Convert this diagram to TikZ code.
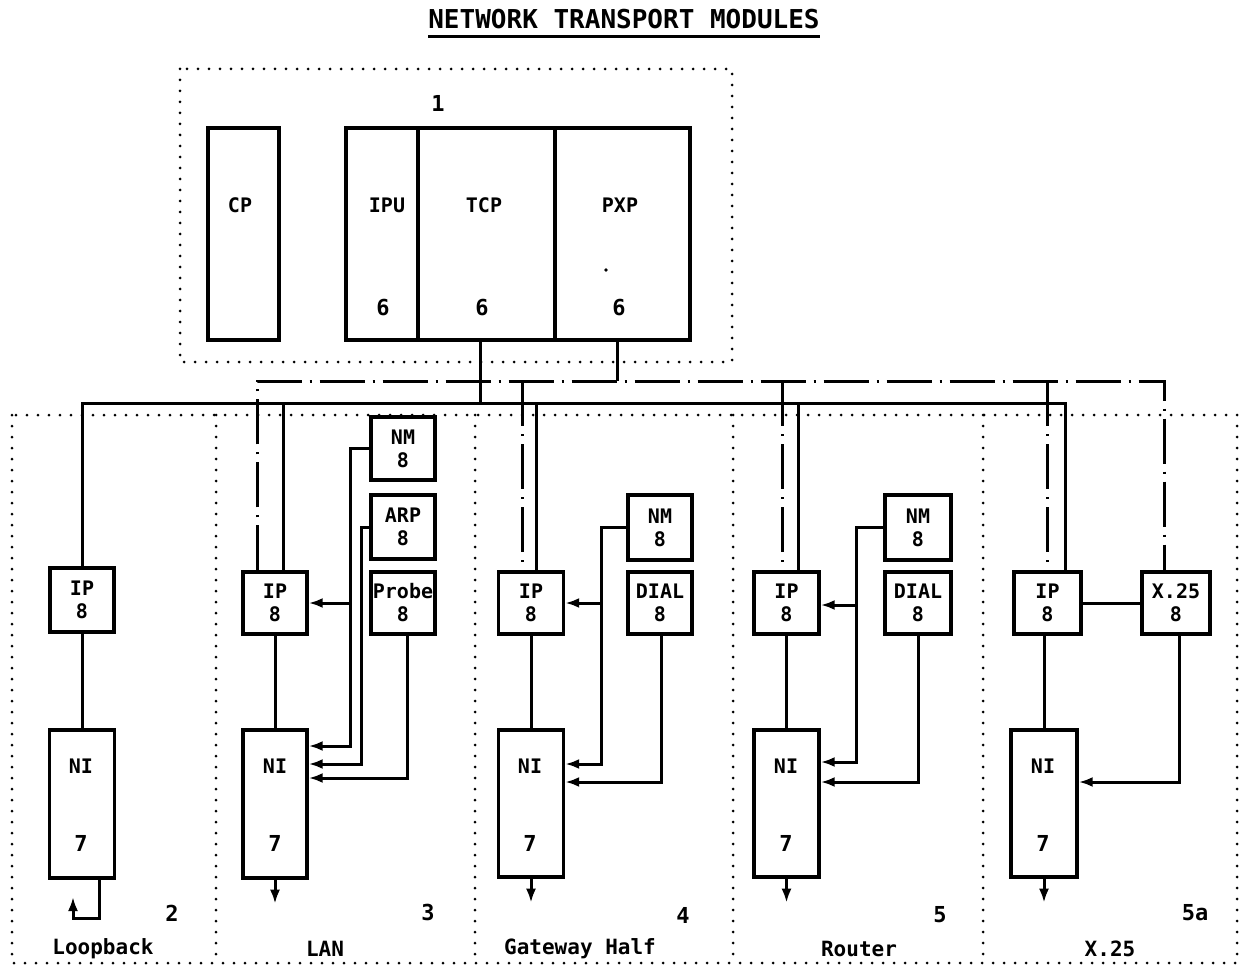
\documentclass[tikz,border=0pt]{standalone}
\usepackage{fontspec}
\newfontfamily\monofam{DejaVu Sans Mono}
\usetikzlibrary{arrows.meta}
\newcommand\boxfont{\fontsize{20}{23}\selectfont\monofam\bfseries}
\newcommand\labfont{\fontsize{21}{25}\selectfont\monofam\bfseries}
\newcommand\numfont{\fontsize{22}{24}\selectfont\monofam\bfseries}
\newcommand\titlefont{\fontsize{26}{30}\selectfont\monofam\bfseries}
\begin{document}
\begin{tikzpicture}[x=1pt,y=-1pt,
  box/.style={draw, line width=3.4pt, inner sep=0pt, align=center, font=\boxfont},
  txt/.style={font=\boxfont, inner sep=0pt},
  conn/.style={line width=3pt},
  arr/.style={line width=3pt, -{Latex[length=14pt,width=10pt]}},
  dd/.style={line width=3pt, dash pattern=on 45pt off 8pt on 2pt off 8pt},
  dots/.style={line width=3pt, line cap=round, dash pattern=on 0pt off 11pt},
  lab/.style={font=\labfont, inner sep=0pt},
  num/.style={font=\numfont, inner sep=0pt}]
\useasboundingbox (0,0) rectangle (1241,965);
\fill[white] (0,0) rectangle (1241,965);
% title
\node[font=\titlefont, inner sep=0pt] (title) at (624,19) {NETWORK TRANSPORT MODULES};
\draw[line width=3pt] ([yshift=-8pt]title.base west) -- ([yshift=-8pt]title.base east);
% dotted regions
\draw[dots] (180,69) rectangle (732,362);
\draw[dots] (12,415) rectangle (1237,963);
\draw[dots] (216,415) -- (216,963);
\draw[dots] (475,415) -- (475,963);
\draw[dots] (733,415) -- (733,963);
\draw[dots] (983,415) -- (983,963);
% top modules
\node[box, minimum width=71pt, minimum height=212pt] (cp) at (243.5,234) {};
\node[box, minimum width=72pt, minimum height=212pt] (ipu) at (382,234) {};
\node[box, minimum width=137pt, minimum height=212pt] (tcp) at (486.5,234) {};
\node[box, minimum width=135pt, minimum height=212pt] (pxp) at (622.5,234) {};
\node[txt] (cpl) at (240,205) {CP};
\node[txt] (ipul) at (387,205) {IPU};
\node[txt] (tcpl) at (484,205) {TCP};
\node[txt] (pxpl) at (620,205) {PXP};
\node[num] (ipun) at (383,308) {6};
\node[num] (tcpn) at (482,308) {6};
\node[num] (pxpn) at (619,308) {6};
\node[num] (one) at (438,103) {1};
\fill (606,270) circle (1.8pt);
% lower boxes
\node[box, minimum width=64pt, minimum height=64pt] (lbip) at (82,600) {IP\\8};
\node[box, minimum width=65pt, minimum height=148pt] (lbni) at (82,804) {};
\node[box, minimum width=64pt, minimum height=62pt] (lanip) at (275,603) {IP\\8};
\node[box, minimum width=64pt, minimum height=148pt] (lanni) at (275,804) {};
\node[box, minimum width=64pt, minimum height=63pt] (lannm) at (403,448.5) {NM\\8};
\node[box, minimum width=64pt, minimum height=64pt] (lanarp) at (403,527) {ARP\\8};
\node[box, minimum width=64pt, minimum height=62pt] (lanprobe) at (403,603) {Probe\\8};
\node[box, minimum width=65pt, minimum height=62pt] (gwip) at (531,603) {IP\\8};
\node[box, minimum width=65pt, minimum height=147pt] (gwni) at (531,803.5) {};
\node[box, minimum width=64pt, minimum height=65pt] (gwnm) at (660,527.5) {NM\\8};
\node[box, minimum width=64pt, minimum height=62pt] (gwdial) at (660,603) {DIAL\\8};
\node[box, minimum width=65pt, minimum height=62pt] (rtip) at (786.5,603) {IP\\8};
\node[box, minimum width=65pt, minimum height=147pt] (rtni) at (786.5,803.5) {};
\node[box, minimum width=66pt, minimum height=65pt] (rtnm) at (918,527.5) {NM\\8};
\node[box, minimum width=66pt, minimum height=62pt] (rtdial) at (918,603) {DIAL\\8};
\node[box, minimum width=67pt, minimum height=62pt] (x25ip) at (1047.5,603) {IP\\8};
\node[box, minimum width=68pt, minimum height=62pt] (x25) at (1176,603) {X.25\\8};
\node[box, minimum width=66pt, minimum height=147pt] (x25ni) at (1044,803.5) {};
% NI labels
\foreach \n/\x in {lbni/81, lanni/275, gwni/530, rtni/786, x25ni/1043}{
  \node[txt] (\n l) at (\x,766) {NI};
  \node[num] (\n n) at (\x,843) {7};
}
% buses
\coordinate (tcpdrop) at (480,403);
\coordinate (pxpdrop) at (617,381);
\draw[conn] (tcp.south -| tcpdrop) -- (tcpdrop);
\draw[conn] (pxp.south -| pxpdrop) -- (pxpdrop);
\coordinate (sbEnd) at (1065,403);
\draw[conn] (lbip.north) |- (sbEnd) -- (sbEnd |- x25ip.north);
\coordinate (s3) at (283,403);
\coordinate (s4) at (536,403);
\coordinate (s5) at (798,403);
\draw[conn] (s3) -- (s3 |- lanip.north);
\draw[conn] (s4) -- (s4 |- gwip.north);
\draw[conn] (s5) -- (s5 |- rtip.north);
\coordinate (dL) at (257,381);
\coordinate (dR) at (1164,381);
\draw[dd] (dL |- lanip.north) -- (dL) -- (dR) -- (dR |- x25.north);
\coordinate (d4) at (522,381);
\coordinate (d5) at (782,381);
\coordinate (d6) at (1047,381);
\draw[dd] (d4) -- (d4 |- gwip.north);
\draw[dd] (d5) -- (d5 |- rtip.north);
\draw[dd] (d6) -- (d6 |- x25ip.north);
% IP to NI
\draw[conn] (lbip.south) -- (lbni.north);
\draw[conn] (lanip.south) -- (lanni.north);
\draw[conn] (gwip.south) -- (gwni.north);
\draw[conn] (rtip.south) -- (rtni.north);
\draw[conn] (x25ip.south -| x25ni.north) -- (x25ni.north);
% LAN side connectors
\coordinate (lanA) at (350,746);
\coordinate (lanB) at (350,603);
\coordinate (lanC) at (361,764);
\coordinate (lanD) at (407,778);
\draw[arr] (lannm.west) -| (lanA) -- (lanA -| lanni.east);
\draw[arr] (lanB) -- (lanB -| lanip.east);
\draw[arr] (lanarp.west) -| (lanC) -- (lanC -| lanni.east);
\draw[arr] (lanprobe.south -| lanD) -- (lanD) -- (lanD -| lanni.east);
% Gateway
\coordinate (gwA) at (601,764);
\coordinate (gwB) at (601,603);
\coordinate (gwD) at (661,782);
\draw[arr] (gwnm.west) -| (gwA) -- (gwA -| gwni.east);
\draw[arr] (gwB) -- (gwB -| gwip.east);
\draw[arr] (gwdial.south -| gwD) -- (gwD) -- (gwD -| gwni.east);
% Router
\coordinate (rtA) at (856,762);
\coordinate (rtB) at (856,605);
\coordinate (rtD) at (918,782);
\draw[arr] (rtnm.west) -| (rtA) -- (rtA -| rtni.east);
\draw[arr] (rtB) -- (rtB -| rtip.east);
\draw[arr] (rtdial.south -| rtD) -- (rtD) -- (rtD -| rtni.east);
% X.25
\draw[conn] (x25ip.east) -- (x25.west);
\coordinate (x25D) at (1179,782);
\draw[arr] (x25.south -| x25D) -- (x25D) -- (x25D -| x25ni.east);
% outputs
\draw[arr] (lanni.south) -- ++(0,24);
\draw[arr] (gwni.south) -- ++(0,24);
\draw[arr] (rtni.south) -- ++(0,24);
\draw[arr] (x25ni.south) -- ++(0,24);
\coordinate (lbA) at (99,918);
\coordinate (lbB) at (73,918);
\coordinate (lbC) at (73,897);
\draw[arr] (lbni.south -| lbA) -- (lbA) -- (lbB) -- (lbC);
% region numbers and names
\node[num] (r2) at (172,913) {2};
\node[num] (r3) at (428,912) {3};
\node[num] (r4) at (683,915) {4};
\node[num] (r5) at (940,915) {5};
\node[num] (r5a) at (1195,913) {5a};
\node[lab] (n2) at (103,949) {Loopback};
\node[lab] (n3) at (325,949) {LAN};
\node[lab] (n4) at (580,949) {Gateway Half};
\node[lab] (n5) at (859,949) {Router};
\node[lab] (n6) at (1110,949) {X.25};
\end{tikzpicture}
\end{document}
